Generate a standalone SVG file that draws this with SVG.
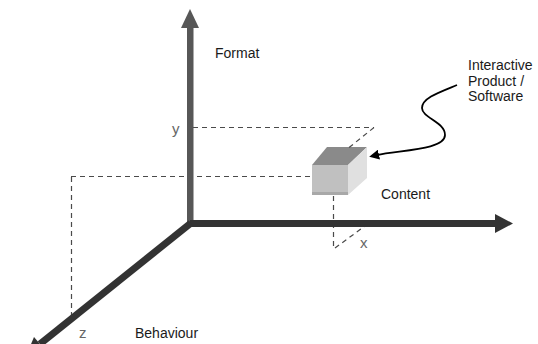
<svg xmlns="http://www.w3.org/2000/svg" width="538" height="344" viewBox="0 0 538 344">
<defs>
<style>
.lbl{font-family:"Liberation Sans",Arial,sans-serif;font-size:14px;fill:#1a1a1a}
.ax{font-family:"Liberation Sans",Arial,sans-serif;font-size:15px;fill:#666}
.dash{stroke:#4a4a4a;stroke-width:1.2;stroke-dasharray:5 4;fill:none}
</style>
<marker id="ah" viewBox="0 0 10 10" refX="2" refY="5" markerWidth="10" markerHeight="10" markerUnits="userSpaceOnUse" orient="auto">
<path d="M0,0 L10,5 L0,10 z" fill="#000"/>
</marker>
</defs>
<rect width="538" height="344" fill="#fff"/>
<g id="connectors">
<line class="dash" x1="193" y1="127.5" x2="374" y2="127.5"/>
<line class="dash" x1="71" y1="176.5" x2="312" y2="176.5"/>
<line class="dash" x1="71.5" y1="177" x2="71.5" y2="318"/>
<line class="dash" x1="333.5" y1="196" x2="333.5" y2="250"/>
<line class="dash" x1="335" y1="248" x2="365" y2="226"/>
</g>
<g id="cube">
<polygon points="312,165 327,147 367,147 348,165" fill="#8a8a8a"/>
<polygon points="348,165 367,147 367,178 348,195" fill="#e0e0e0"/>
<rect x="312" y="165" width="36" height="30" fill="#c0c0c0"/>
<rect x="312" y="192" width="36" height="3" fill="#a8a8a8"/>
</g>
<line class="dash" x1="374" y1="127.5" x2="346" y2="150"/>
<g id="axis-y">
<rect x="187" y="27" width="6.5" height="197" fill="#575757"/>
<polygon points="190,9 199,28 181,28" fill="#575757"/>
</g>
<g id="axis-x">
<rect x="190" y="220" width="306" height="7" fill="#333"/>
<polygon points="513,223.5 495,214 495,233" fill="#333"/>
</g>
<g id="axis-z">
<line x1="191" y1="223" x2="40" y2="344" stroke="#333" stroke-width="7"/>
<polygon points="26,356 34,337 46,351" fill="#333"/>
</g>
<g id="pointer">
<path d="M457,85 C440,92 422,98 422,108 C422,118 445,122 445,135 C445,150 400,150 377,155" fill="none" stroke="#000" stroke-width="1.8" marker-end="url(#ah)"/>
</g>
<g id="labels">
<text class="lbl" x="215" y="58">Format</text>
<text class="lbl" x="381" y="199">Content</text>
<text class="lbl" x="135" y="338">Behaviour</text>
<text class="lbl" x="468" y="70">Interactive</text>
<text class="lbl" x="468" y="86">Product /</text>
<text class="lbl" x="468" y="101">Software</text>
<text class="ax" x="172" y="134">y</text>
<text class="ax" x="360" y="248">x</text>
<text class="ax" x="79" y="338">z</text>
</g>
</svg>
